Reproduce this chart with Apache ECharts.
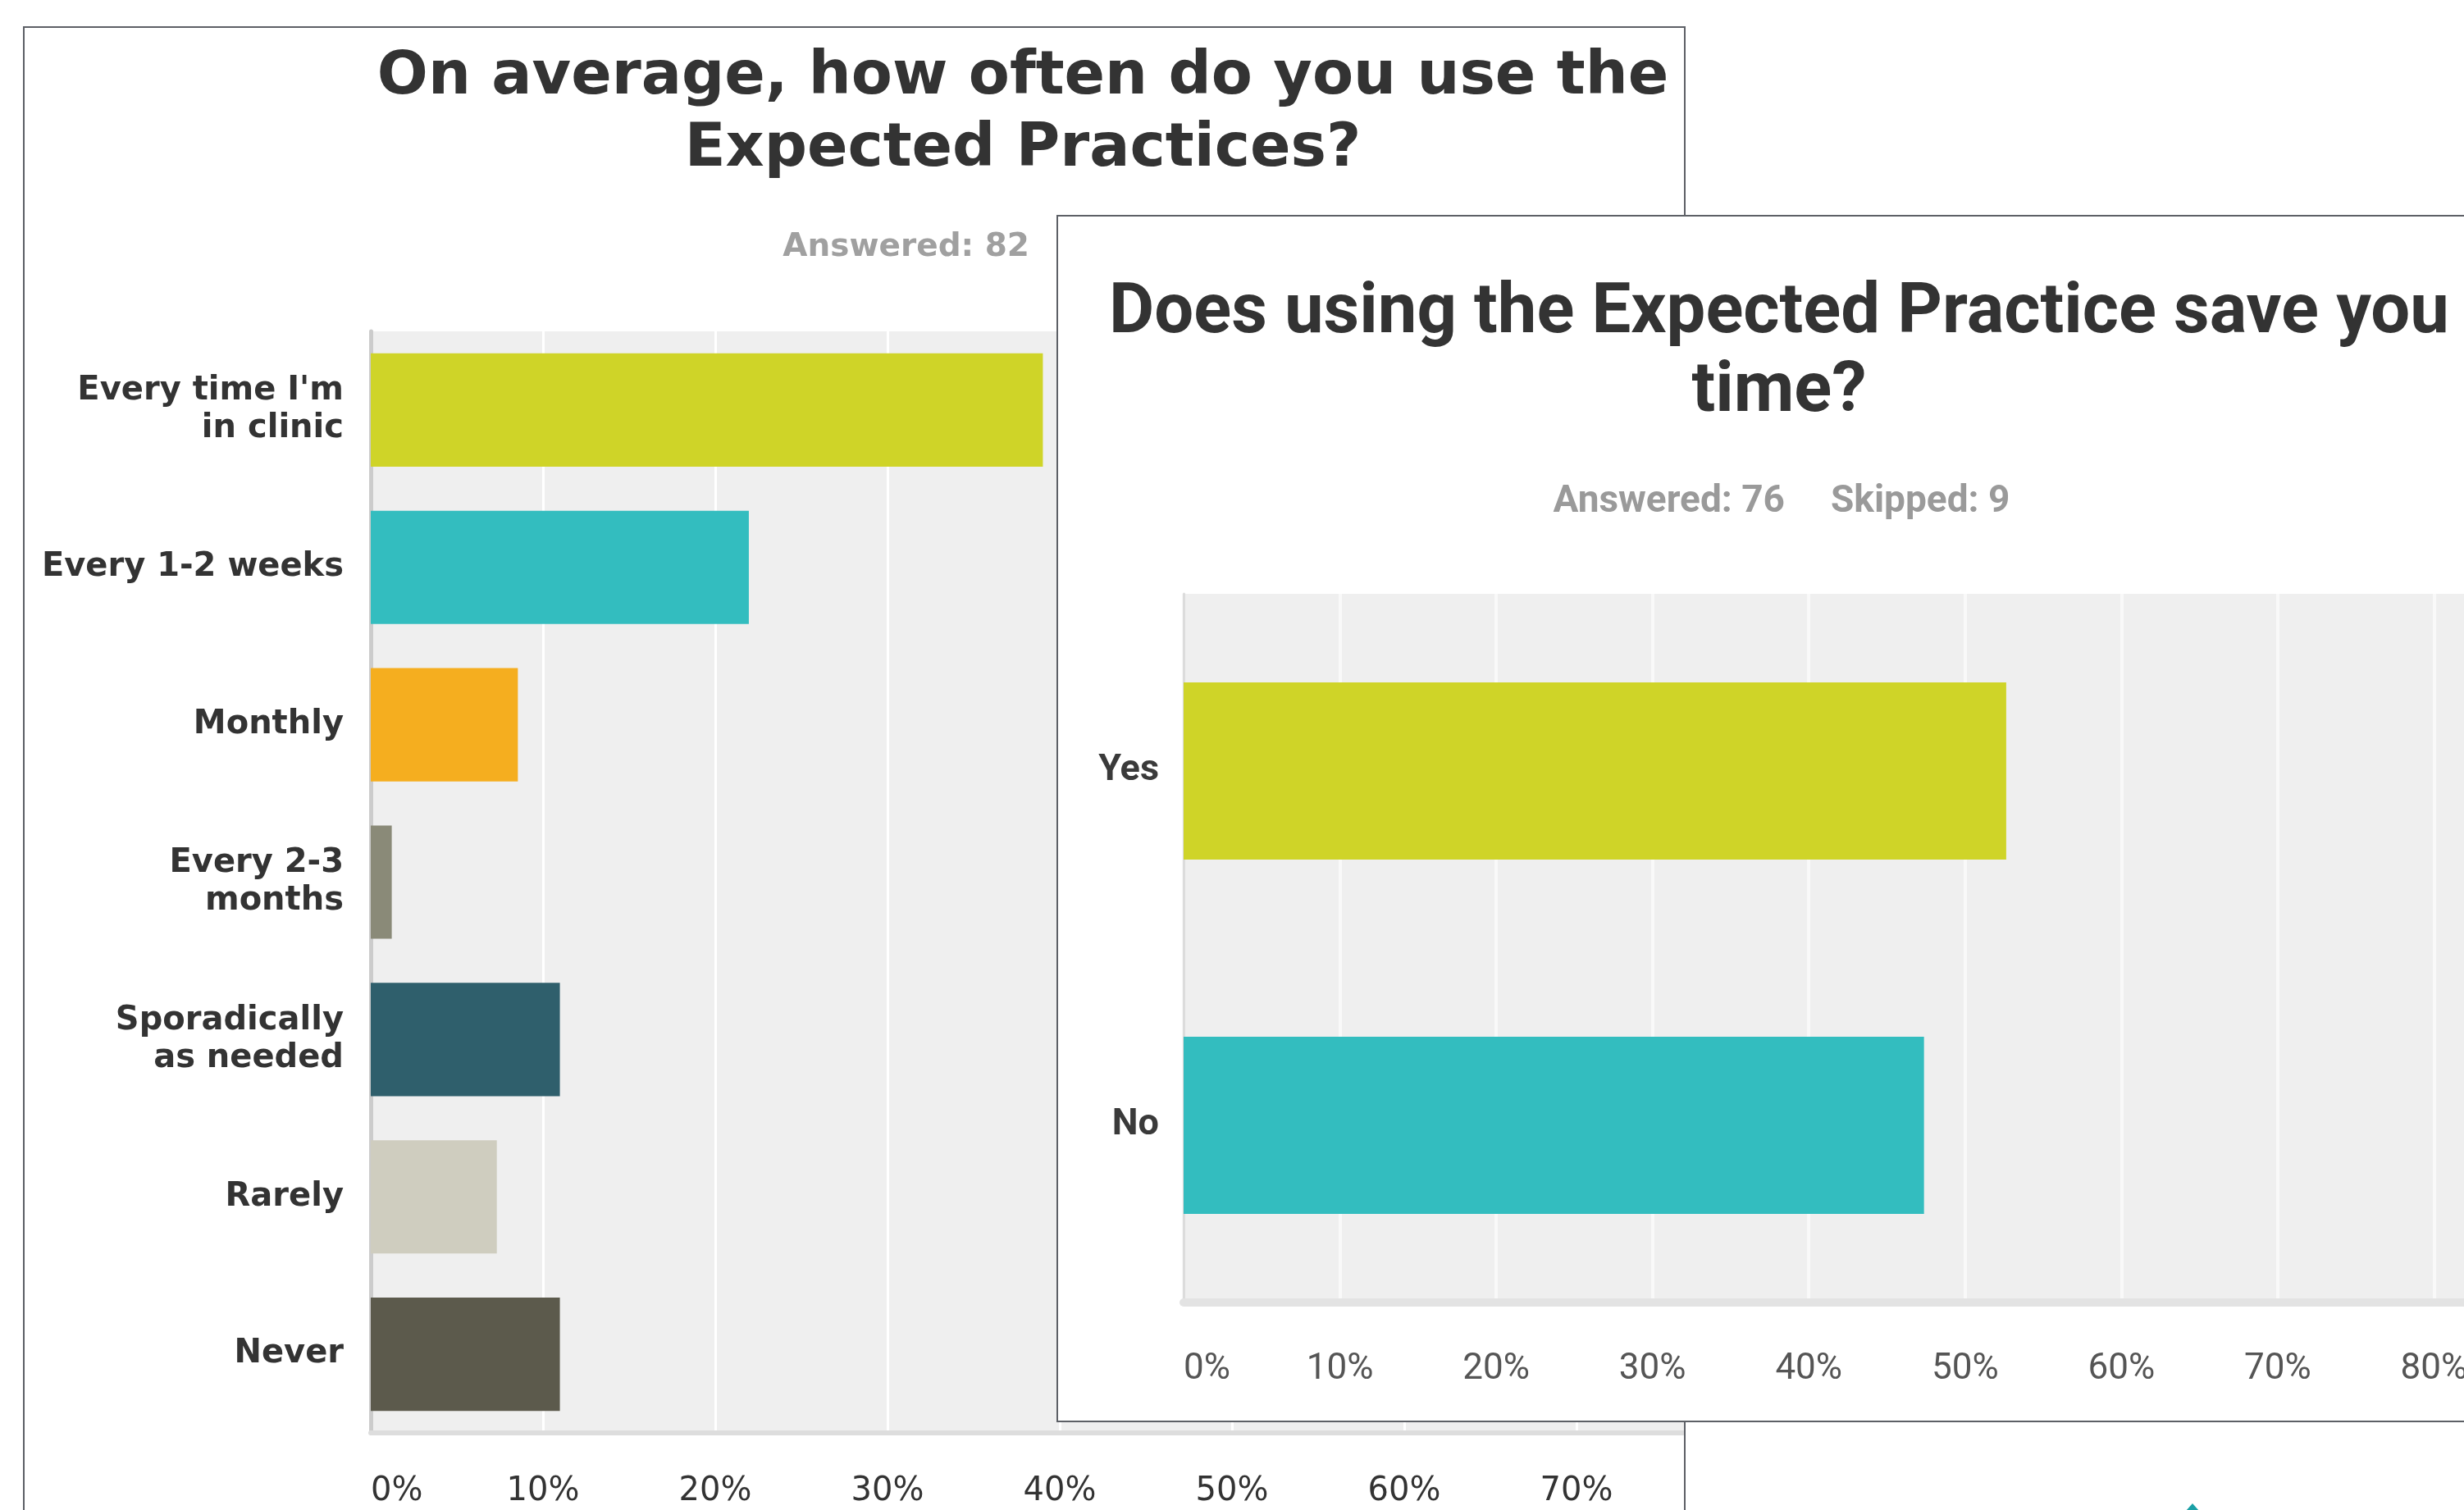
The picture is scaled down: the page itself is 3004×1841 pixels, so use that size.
<!DOCTYPE html>
<html>
<head>
<meta charset="utf-8">
<title>Expected Practices survey</title>
<script src="https://cdn.jsdelivr.net/npm/echarts@6.0.0/dist/echarts.min.js"></script>
<style>
html,body{margin:0;padding:0;width:3004px;height:1841px;overflow:hidden;background:#fff;}
.panel{position:absolute;border:2px solid #5d6066;overflow:hidden;background:#fff;}
#panelA{left:28px;top:32px;width:2023px;height:1900px;z-index:1;}
#panelB{left:1288px;top:262px;width:1800px;height:1468px;z-index:2;}
#chartA{position:absolute;left:-30px;top:-34px;width:2700px;height:1841px;}
#chartB{position:absolute;left:-1290px;top:-264px;width:3300px;height:1841px;}
#tip{position:absolute;left:2665px;top:1833px;width:0;height:0;border-left:8px solid transparent;border-right:8px solid transparent;border-bottom:9px solid #1aa0a6;z-index:3;}
</style>
</head>
<body>
<div class="panel" id="panelA"><div id="chartA"></div></div>
<div class="panel" id="panelB"><div id="chartB"></div></div>
<div id="tip"></div>
<script>
// how often used (percent of 82 answers)
var freqCategories = ["Every time I'm\nin clinic", 'Every 1-2 weeks', 'Monthly', 'Every 2-3\nmonths', 'Sporadically\nas needed', 'Rarely', 'Never'];
var freqValues = [39.02, 21.95, 8.54, 1.22, 10.98, 7.32, 10.98];
var freqColors = ['#cfd428', '#33bdbf', '#f5ae1f', '#8a8a78', '#2f5f6c', '#cfcdbf', '#5c5a4c'];

// saves time? (percent of 76 answers)
var saveCategories = ['Yes', 'No'];
var saveValues = [52.63, 47.37];
var saveColors = ['#cfd428', '#33bdbf'];

var pctFormat = '{value}%';

function txt(x, y, s, font, color, align) {
	return { type: 'text', x: x, y: y, silent: true,
		style: { text: s, font: font, fill: color, align: align, textAlign: align, verticalAlign: 'middle', textVerticalAlign: 'middle' } };
}

/* 左边: On average ... */
var chartA = echarts.init(document.getElementById('chartA'));
var fontA = '"DejaVu Sans", Verdana, sans-serif';
chartA.setOption({
	animation: false,
	graphic: [
		txt(1247, 95, 'On average, how often do you use the', 'bold 73px ' + fontA, '#333333', 'center'),
		txt(1247, 183, 'Expected Practices?', 'bold 73px ' + fontA, '#333333', 'center'),
		txt(1255, 302, 'Answered: 82', 'bold 39px ' + fontA, '#a0a0a0', 'right')
	],
	grid: { left: 452, top: 404, width: 1890, height: 1343, show: true, backgroundColor: '#efefef', borderWidth: 0, outerBoundsMode: 'none' },
	xAxis: {
		type: 'value', min: 0, max: 90, interval: 10,
		axisLine: { show: true, lineStyle: { color: '#dddddd', width: 6 } },
		axisTick: { show: false },
		splitLine: { show: true, lineStyle: { color: '#ffffff', width: 3 } },
		axisLabel: { formatter: pctFormat, color: '#333333', fontFamily: fontA, fontSize: 40, margin: 52, alignMinLabel: 'left' }
	},
	yAxis: {
		type: 'category', inverse: true, data: freqCategories,
		axisLine: { show: true, lineStyle: { color: '#cccccc', width: 5 } },
		axisTick: { show: false },
		axisLabel: { color: '#333333', fontFamily: fontA, fontWeight: 'bold', fontSize: 40, lineHeight: 46, margin: 33, align: 'right' }
	},
	series: [{
		type: 'bar', barCategoryGap: '28%',
		data: freqValues.map(function (v, i) { return { value: v, itemStyle: { color: freqColors[i] } }; })
	}]
});

/* 右边: Does using ... save you time? */
var chartB = echarts.init(document.getElementById('chartB'));
var fontB = 'Roboto, "Liberation Sans", Arial, sans-serif';
chartB.setOption({
	animation: false,
	graphic: [
		txt(2169, 384, 'Does using the Expected Practice save you', 'bold 85px ' + fontB, '#333333', 'center'),
		txt(2169, 480, 'time?', 'bold 85px ' + fontB, '#333333', 'center'),
		txt(2176, 612, 'Answered: 76', 'bold 46px ' + fontB, '#9a9a9a', 'right'),
		txt(2232, 612, 'Skipped: 9', 'bold 46px ' + fontB, '#9a9a9a', 'left')
	],
	grid: { left: 1443, top: 724, width: 1715, height: 864, show: true, backgroundColor: '#efefef', borderWidth: 0, outerBoundsMode: 'none' },
	xAxis: {
		type: 'value', min: 0, max: 90, interval: 10,
		axisLine: { show: true, lineStyle: { color: '#e3e3e3', width: 10 } },
		axisTick: { show: false },
		splitLine: { show: true, lineStyle: { color: '#f9f9f9', width: 4 } },
		axisLabel: { formatter: pctFormat, color: '#555555', fontFamily: fontB, fontSize: 44, margin: 60, alignMinLabel: 'left' }
	},
	yAxis: {
		type: 'category', inverse: true, data: saveCategories,
		axisLine: { show: true, lineStyle: { color: '#dcdcdc', width: 3 } },
		axisTick: { show: false },
		axisLabel: { color: '#3a3a3a', fontFamily: fontB, fontWeight: 'bold', fontSize: 45, margin: 30, align: 'right' }
	},
	series: [{
		type: 'bar', barCategoryGap: '50%',
		data: saveValues.map(function (v, i) { return { value: v, itemStyle: { color: saveColors[i] } }; })
	}]
});
</script>
</body>
</html>
